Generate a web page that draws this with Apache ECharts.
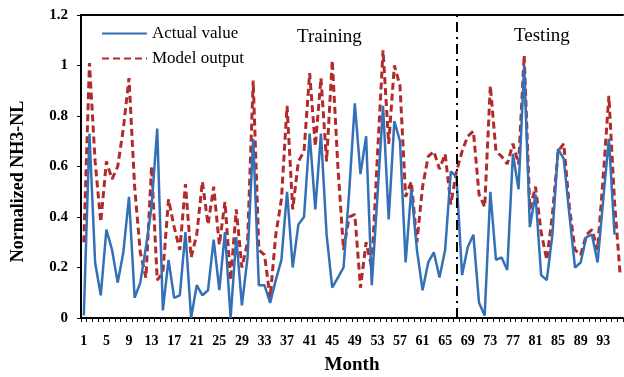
<!DOCTYPE html>
<html>
<head>
<meta charset="utf-8">
<script src="https://cdn.jsdelivr.net/npm/echarts@6/dist/echarts.min.js"></script>
<style>
  html, body { margin: 0; padding: 0; background: #fff; }
  #chart { width: 624px; height: 377px; }
</style>
</head>
<body>
<div id="chart"></div>
<script>
// months 1..96
const months = [];
for (let m = 1; m <= 96; m++) months.push(String(m));

const actualValue = [
  0.01, 0.73, 0.22, 0.09, 0.35, 0.27, 0.14, 0.26, 0.48, 0.08,
  0.14, 0.28, 0.44, 0.75, 0.03, 0.23, 0.08, 0.09, 0.34, 0.00,
  0.13, 0.09, 0.11, 0.31, 0.11, 0.34, 0.00, 0.32, 0.05, 0.24,
  0.71, 0.13, 0.13, 0.06, 0.15, 0.23, 0.50, 0.20, 0.37, 0.40,
  0.73, 0.43, 0.73, 0.33, 0.12, 0.16, 0.20, 0.50, 0.85, 0.57,
  0.72, 0.13, 0.48, 0.84, 0.39, 0.78, 0.70, 0.22, 0.51, 0.27,
  0.11, 0.22, 0.26, 0.16, 0.27, 0.58, 0.56, 0.17, 0.28, 0.33,
  0.06, 0.01, 0.50, 0.23, 0.24, 0.19, 0.65, 0.51, 1.00, 0.36,
  0.49, 0.17, 0.15, 0.33, 0.67, 0.63, 0.41, 0.20, 0.22, 0.32,
  0.33, 0.22, 0.47, 0.71, 0.33, null
];

const modelOutput = [
  0.30, 1.01, 0.62, 0.38, 0.62, 0.55, 0.60, 0.75, 0.95, 0.52,
  0.26, 0.16, 0.60, 0.15, 0.18, 0.47, 0.36, 0.27, 0.53, 0.24,
  0.33, 0.54, 0.37, 0.52, 0.29, 0.46, 0.15, 0.43, 0.20, 0.30,
  0.94, 0.27, 0.25, 0.08, 0.33, 0.47, 0.84, 0.43, 0.62, 0.66,
  0.97, 0.68, 0.95, 0.62, 1.02, 0.60, 0.27, 0.40, 0.41, 0.12,
  0.30, 0.20, 0.64, 1.06, 0.69, 1.00, 0.92, 0.48, 0.54, 0.30,
  0.52, 0.64, 0.66, 0.59, 0.65, 0.45, 0.58, 0.66, 0.72, 0.74,
  0.49, 0.44, 0.92, 0.66, 0.64, 0.61, 0.69, 0.61, 1.04, 0.43,
  0.52, 0.34, 0.23, 0.41, 0.66, 0.69, 0.44, 0.27, 0.25, 0.33,
  0.35, 0.27, 0.56, 0.88, 0.46, 0.17
];

const splitMonth = '67';
const serif = '"Liberation Serif", "Times New Roman", serif';

const chart = echarts.init(document.getElementById('chart'));

const option = {
  backgroundColor: '#fff',
  animation: false,
  grid: { left: 81, right: 1, top: 15, bottom: 59, outerBoundsMode: 'none' },
  legend: {
    orient: 'vertical',
    left: 96,
    top: 20,
    itemWidth: 45,
    itemHeight: 14,
    itemGap: 8,
    itemStyle: { opacity: 0 },
    textStyle: { fontFamily: serif, fontSize: 17, color: '#000' },
    data: ['Actual value', 'Model output']
  },
  graphic: [
    { type: 'text', left: 297, top: 28, style: { text: 'Training', font: '19px ' + serif, fill: '#000' } },
    { type: 'text', left: 514, top: 27, style: { text: 'Testing', font: '19px ' + serif, fill: '#000' } }
  ],
  xAxis: [
    {
      type: 'category',
      data: months,
      boundaryGap: true,
      name: 'Month',
      nameLocation: 'middle',
      nameGap: 38,
      nameTextStyle: { fontFamily: serif, fontSize: 19, fontWeight: 'bold', color: '#000' },
      axisLine: { lineStyle: { color: '#000', width: 2 } },
      axisTick: { show: true, interval: 0, length: 4, lineStyle: { color: '#000' } },
      axisLabel: { interval: 3, margin: 16, fontFamily: serif, fontSize: 14, fontWeight: 'bold', color: '#000' },
      splitLine: { show: false }
    },
    {
      type: 'category',
      data: months,
      position: 'top',
      axisLine: { lineStyle: { color: '#000', width: 2 } },
      axisTick: { show: false },
      axisLabel: { show: false }
    }
  ],
  yAxis: {
    type: 'value',
    min: 0,
    max: 1.2,
    interval: 0.2,
    name: 'Normalized NH3-NL',
    nameLocation: 'middle',
    nameGap: 54,
    nameTextStyle: { fontFamily: serif, fontSize: 18, fontWeight: 'bold', color: '#000', padding: [0, 30, 0, 0] },
    axisLine: { show: true, lineStyle: { color: '#000', width: 2 } },
    axisTick: { show: true, length: 4, lineStyle: { color: '#000' } },
    axisLabel: { margin: 13, fontFamily: serif, fontSize: 15, fontWeight: 'bold', color: '#000' },
    splitLine: { show: false }
  },
  series: [
    {
      name: 'Actual value',
      type: 'line',
      data: actualValue,
      symbol: 'none',
      color: '#3470B8',
      lineStyle: { color: '#3470B8', width: 2.5 },
      z: 3,
      markLine: {
        silent: true,
        symbol: 'none',
        label: { show: false },
        lineStyle: { color: '#000', width: 2, type: [10, 5, 2, 5] },
        data: [{ xAxis: splitMonth }]
      }
    },
    {
      name: 'Model output',
      type: 'line',
      data: modelOutput,
      symbol: 'none',
      color: '#B22A2A',
      lineStyle: { color: '#B22A2A', width: 3, type: [7, 4] },
      z: 2
    }
  ]
};

chart.setOption(option);
</script>
</body>
</html>
